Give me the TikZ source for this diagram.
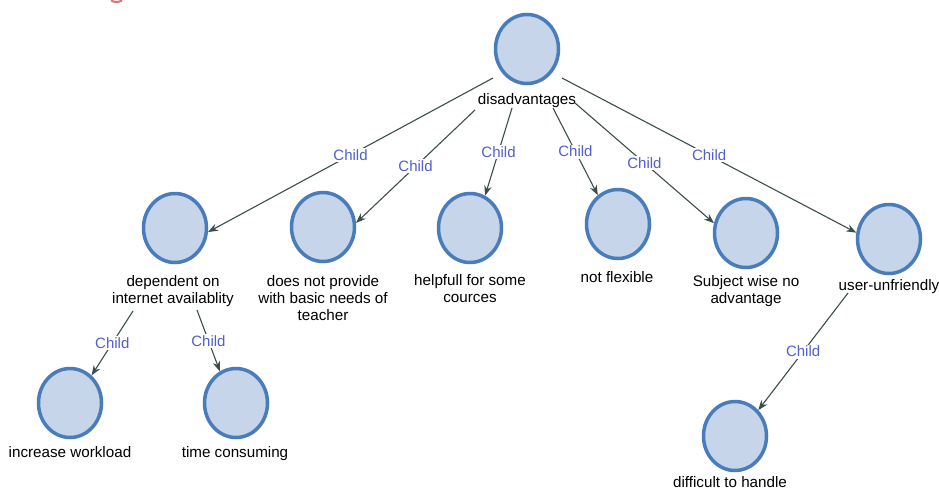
\documentclass[tikz,border=0pt]{standalone}
\usepackage{fontspec}
\setmainfont{Liberation Sans}
\usetikzlibrary{arrows.meta,shapes.geometric}
\definecolor{bubline}{RGB}{72,124,186}
\definecolor{bubfill}{RGB}{198,213,233}
\definecolor{edgecol}{RGB}{60,78,75}
\definecolor{childcol}{RGB}{80,96,204}
\definecolor{markred}{RGB}{232,110,110}
\tikzset{
  bub/.style={ellipse, draw=bubline, fill=bubfill, line width=3.5pt,
    minimum width=63pt, minimum height=69pt, inner sep=0pt},
  lab/.style={font=\fontsize{15.2}{17}\selectfont, text=black, align=center,
    inner sep=0pt, anchor=base},
  edge/.style={draw=edgecol, line width=1.1pt,
    -{Stealth[length=10pt,width=7.5pt]}},
  childlab/.style={font=\fontsize{15}{17}\selectfont, text=childcol,
    fill=white, inner sep=1.5pt, midway}
}
\begin{document}
\begin{tikzpicture}[x=1pt,y=-1pt]
\fill[white] (0,0) rectangle (939,490);
\useasboundingbox (0,0) rectangle (939,490);
% small red mark at the top edge
\draw[markred, line width=2pt] (111,0.3) .. controls (114,2.6) and (119,2.6) .. (122,0.3);

% circles
\node[bub] (top)  at (527,49)  {};
\node[bub] (dep)  at (175,228) {};
\node[bub] (dnp)  at (323,227) {};
\node[bub] (help) at (470,228) {};
\node[bub] (nf)   at (618,224) {};
\node[bub] (sw)   at (746,233) {};
\node[bub] (uu)   at (889,239) {};
\node[bub] (inc)  at (70,403)  {};
\node[bub] (time) at (236,403) {};
\node[bub] (diff) at (735,436) {};

% labels (base anchor = baseline of the last line)
\node[lab] (topL)  at (527,104) {disadvantages};
\node[lab] (depL)  at (173,303) {dependent on\\internet availablity};
\node[lab] (dnpL)  at (323,320) {does not provide\\with basic needs of\\teacher};
\node[lab] (helpL) at (470,302) {helpfull for some\\cources};
\node[lab] (nfL)   at (617,282) {not flexible};
\node[lab] (swL)   at (746,303) {Subject wise no\\advantage};
\node[lab] (uuL)   at (889,290) {user-unfriendly};
\node[lab] (incL)  at (70,457)  {increase workload};
\node[lab] (timeL) at (235,457) {time consuming};
\node[lab] (diffL) at (730,487) {difficult to handle};

% edge start points
\coordinate (s1) at (493,78);
\coordinate (s2) at (475,110);
\coordinate (s3) at (512,108);
\coordinate (s4) at (553,108);
\coordinate (s5) at (575,103);
\coordinate (s6) at (562,78);
\coordinate (s7) at (133,311);
\coordinate (s8) at (197,310);
\coordinate (s9) at (848,293);

% edges
\draw[edge] (s1) -- node[childlab] {Child} (dep.-7);
\draw[edge] (s2) -- node[childlab] {Child} (dnp.7);
\draw[edge] (s3) -- node[childlab] {Child} (help.65);
\draw[edge] (s4) -- node[childlab] {Child} (nf.125);
\draw[edge] (s5) -- node[childlab] {Child} (sw.163);
\draw[edge] (s6) -- node[childlab] {Child} (uu.169);
\draw[edge] (s7) -- node[childlab] {Child} (inc.52);
\draw[edge] (s8) -- node[childlab] {Child} (time.117);
\draw[edge] (s9) -- node[childlab] {Child} (diff.48);
\end{tikzpicture}
\end{document}
